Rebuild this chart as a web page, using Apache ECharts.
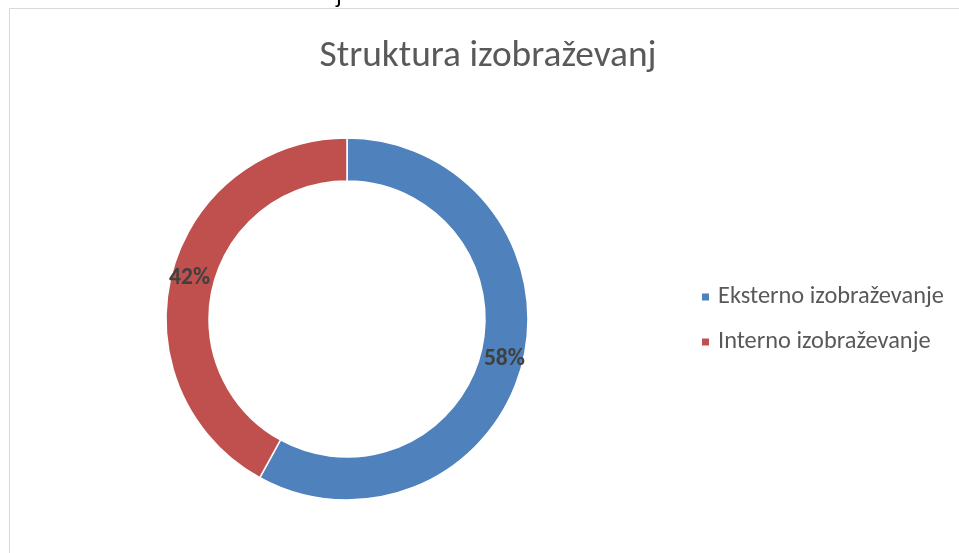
<!DOCTYPE html>
<html>
<head>
<meta charset="utf-8">
<script src="https://cdn.jsdelivr.net/npm/echarts@6/dist/echarts.min.js"></script>
<style>html,body{margin:0;padding:0;background:#fff;}#c{width:959px;height:553px;}</style>
</head>
<body>
<div id="c"></div>
<script>
const titleText = 'Struktura izobraževanj';
const categories = ['Eksterno izobraževanje', 'Interno izobraževanje'];
const values = [58, 42];
const colors = ['#4F81BD', '#C0504D'];

const fam = "Carlito, Calibri, 'Open Sans', sans-serif";
const mctx = document.createElement('canvas').getContext('2d');
function fitSize(text, target, weight) {
  mctx.font = (weight || 'normal') + ' 100px ' + fam;
  return 100 * target / mctx.measureText(text).width;
}
const titleSize = fitSize(titleText, 337);
const legendSize = fitSize(categories[0], 226);
const labelSize = fitSize('58%', 41, 'bold');

const chart = echarts.init(document.getElementById('c'), null, {renderer: 'canvas'});
chart.setOption({
  backgroundColor: '#ffffff',
  animation: false,
  color: colors,
  title: {
    text: titleText,
    left: 488,
    textAlign: 'center',
    top: 36,
    padding: 0,
    textStyle: {fontFamily: fam, fontSize: titleSize, fontWeight: 'normal', color: '#595959', lineHeight: titleSize * 1.1}
  },
  legend: {
    orient: 'vertical',
    left: 700,
    top: 282,
    padding: 0,
    itemWidth: 9,
    itemHeight: 9,
    itemGap: 15,
    icon: 'rect',
    data: categories,
    textStyle: {fontFamily: fam, fontSize: legendSize, color: '#595959', lineHeight: 30, padding: [0, 0, 0, 3]}
  },
  graphic: [
    {type: 'rect', silent: true, shape: {x: 9.5, y: 8.5, width: 1000, height: 1000},
     style: {fill: 'none', stroke: '#d9d9d9', lineWidth: 1}},
    {type: 'text', silent: true, x: 336, y: -15,
     style: {text: 'j', font: '24px ' + fam, fill: '#000', textVerticalAlign: 'alphabetic'}}
  ],
  series: [{
    type: 'pie',
    center: [347, 319],
    radius: [138, 181],
    startAngle: 90,
    clockwise: true,
    avoidLabelOverlap: false,
    itemStyle: {borderColor: '#ffffff', borderWidth: 1.5},
    label: {
      show: true,
      position: 'inside',
      formatter: p => Math.round(p.percent) + '%',
      fontFamily: fam,
      fontSize: labelSize,
      fontWeight: 'bold',
      color: '#404040'
    },
    labelLine: {show: false},
    emphasis: {disabled: true},
    data: categories.map((n, i) => ({name: n, value: values[i]}))
  }]
});
</script>
</body>
</html>
